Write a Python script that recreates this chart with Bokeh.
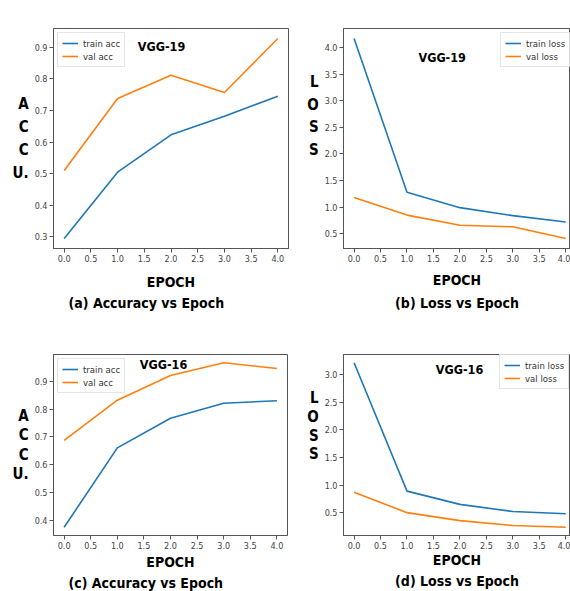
from bokeh.plotting import figure
from bokeh.layouts import column, row
from bokeh.models import Range1d, FixedTicker, NumeralTickFormatter, Label, Legend, LegendItem, Title
from bokeh.embed import file_html
from bokeh.resources import INLINE

# ---------------- data ----------------
epochs = [0, 1, 2, 3, 4]
vgg19_train_acc = [0.295, 0.505, 0.623, 0.682, 0.745]
vgg19_val_acc = [0.510, 0.738, 0.812, 0.757, 0.928]
vgg19_train_loss = [4.17, 1.28, 0.99, 0.84, 0.72]
vgg19_val_loss = [1.18, 0.85, 0.66, 0.63, 0.41]
vgg16_train_acc = [0.374, 0.660, 0.767, 0.821, 0.830]
vgg16_val_acc = [0.687, 0.832, 0.921, 0.967, 0.946]
vgg16_train_loss = [3.215, 0.89, 0.65, 0.52, 0.48]
vgg16_val_loss = [0.87, 0.50, 0.356, 0.266, 0.235]

x_ticks = [0.0, 0.5, 1.0, 1.5, 2.0, 2.5, 3.0, 3.5, 4.0]
acc19_ticks = [0.3, 0.4, 0.5, 0.6, 0.7, 0.8, 0.9]
loss19_ticks = [0.5, 1.0, 1.5, 2.0, 2.5, 3.0, 3.5, 4.0]
acc16_ticks = [0.4, 0.5, 0.6, 0.7, 0.8, 0.9]
loss16_ticks = [0.5, 1.0, 1.5, 2.0, 2.5, 3.0]

BLUE = "#1f77b4"
ORANGE = "#ff7f0e"
FONT = "DejaVu Sans Condensed"


def make_panel(fig_box, frame_box, x_end, train, val, names, yticks,
               ylabel, ylabel_lh, model, model_pos, caption, caption_align,
               caption_offset, epoch_standoff, caption_standoff, legend_loc):
    fx, fy, W, H = fig_box
    L, T, R, B = frame_box
    allv = train + val
    lo, hi = min(allv), max(allv)
    pad = 0.05 * (hi - lo)
    y0, y1 = lo - pad, hi + pad
    x0, x1 = -0.2, x_end

    p = figure(width=W, height=H, output_backend="svg", toolbar_location=None,
               x_range=Range1d(x0, x1), y_range=Range1d(y0, y1),
               min_border_left=L - fx, min_border_right=fx + W - R,
               min_border_top=T - fy, min_border_bottom=fy + H - B)
    p.background_fill_color = "white"
    p.border_fill_color = "white"
    p.outline_line_color = "#555555"
    p.xgrid.visible = False
    p.ygrid.visible = False

    for ax in (p.xaxis[0], p.yaxis[0]):
        ax.axis_line_color = "#555555"
        ax.major_tick_line_color = "#555555"
        ax.major_tick_in = 0
        ax.major_tick_out = 4
        ax.minor_tick_line_color = None
        ax.major_label_text_font = FONT
        ax.major_label_text_font_size = "9px"
        ax.major_label_text_color = "#444444"
        ax.major_label_standoff = 2
        ax.formatter = NumeralTickFormatter(format="0.0")
    p.xaxis.ticker = FixedTicker(ticks=x_ticks)
    p.yaxis.ticker = FixedTicker(ticks=yticks)

    p.xaxis.axis_label = "EPOCH"
    p.xaxis.axis_label_text_font = FONT
    p.xaxis.axis_label_text_font_style = "bold"
    p.xaxis.axis_label_text_font_size = "14px"
    p.xaxis.axis_label_text_color = "black"
    p.xaxis.axis_label_standoff = epoch_standoff

    ya = p.yaxis[0]
    ya.axis_label = ylabel
    ya.axis_label_text_font = FONT
    ya.axis_label_text_font_style = "bold"
    ya.axis_label_text_font_size = "15px"
    ya.axis_label_text_color = "black"
    ya.axis_label_standoff = 3
    ya.axis_label_text_line_height = ylabel_lh
    try:
        ya.axis_label_orientation = "horizontal"
    except Exception:
        pass

    r1 = p.line(epochs, train, line_color=BLUE, line_width=1.6)
    r2 = p.line(epochs, val, line_color=ORANGE, line_width=1.6)

    legend = Legend(items=[LegendItem(label=names[0], renderers=[r1]),
                           LegendItem(label=names[1], renderers=[r2])],
                    location=legend_loc, margin=4, padding=4, spacing=1,
                    glyph_width=16, glyph_height=12, label_height=12,
                    label_standoff=5, label_text_font=FONT,
                    label_text_font_size="9.5px", label_text_color="#333333",
                    border_line_color="#cccccc", background_fill_alpha=0.8)
    p.add_layout(legend, "center")

    def to_data(px, py):
        return (x0 + (px - L) / (R - L) * (x1 - x0),
                y1 - (py - T) / (B - T) * (y1 - y0))

    dx, dy = to_data(*model_pos)
    p.add_layout(Label(x=dx, y=dy, text=model, text_align="center",
                       text_baseline="middle", text_font=FONT,
                       text_font_style="bold", text_font_size="12.5px",
                       text_color="black"))

    p.add_layout(Title(text=caption, align=caption_align, offset=caption_offset,
                       standoff=caption_standoff, text_font=FONT,
                       text_font_style="bold", text_font_size="14px",
                       text_color="black"), "below")
    return p


pa = make_panel((0, 0, 304, 320), (53, 28, 288, 248), 4.2,
                vgg19_train_acc, vgg19_val_acc, ["train acc", "val acc"], acc19_ticks,
                "A\nC\nC\nU.", 1.28, "VGG-19", (161, 46),
                "(a) Accuracy vs Epoch", "left", 15, 9, 0, "top_left")
pb = make_panel((304, 0, 266, 320), (340, 28, 570, 248), 4.09,
                vgg19_train_loss, vgg19_val_loss, ["train loss", "val loss"], loss19_ticks,
                "L\nO\nS\nS\n \n ", 1.25, "VGG-19", (440, 57),
                "(b) Loss vs Epoch", "center", 0, 7, 4, (157, 181))
pc = make_panel((0, 320, 304, 271), (53, 353, 287, 535), 4.2,
                vgg16_train_acc, vgg16_val_acc, ["train acc", "val acc"], acc16_ticks,
                "A\nC\nC\nU.", 1.09, "VGG-16", (163, 363),
                "(c) Accuracy vs Epoch", "left", 15, 2, 0, "top_left")
pd_ = make_panel((304, 320, 266, 271), (341, 354, 570, 538), 4.09,
                 vgg16_train_loss, vgg16_val_loss, ["train loss", "val loss"], loss16_ticks,
                 "L\nO\nS\nS\n \n ", 1.05, "VGG-16", (458, 369),
                 "(d) Loss vs Epoch", "center", 0, 0, 0, (156, 146))

layout = column(row(pa, pb), row(pc, pd_))
open("out.html", "w").write(file_html(layout, INLINE))
